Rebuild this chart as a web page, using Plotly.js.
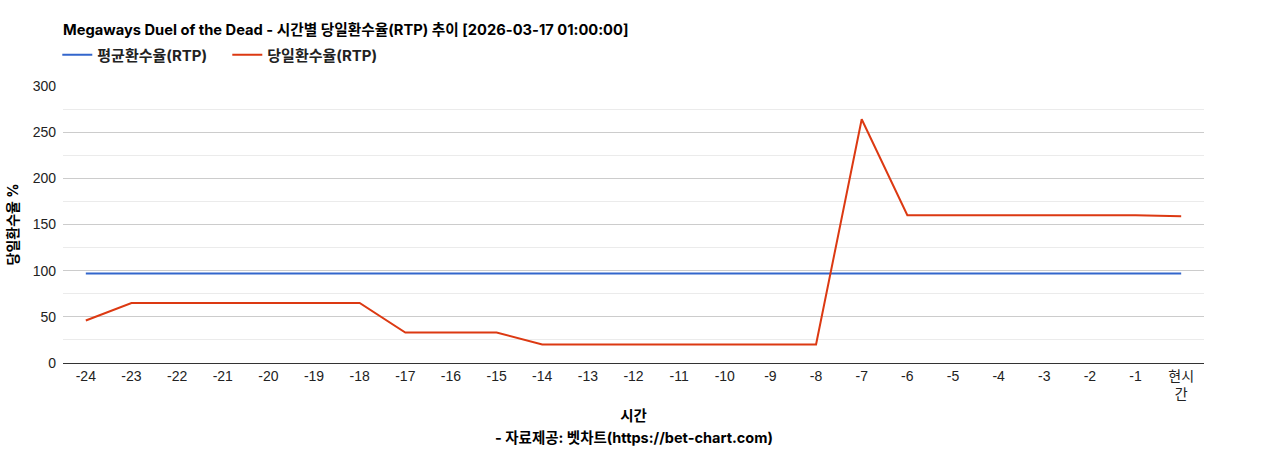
<!DOCTYPE html>
<html>
<head>
<meta charset="utf-8">
<script src="https://cdn.plot.ly/plotly-3.0.1.min.js"></script>
<style>html,body{margin:0;padding:0;background:#fff;}#chart{width:1268px;height:450px;}</style>
</head>
<body>
<div id="chart"></div>
<script>
const categories = ["-24","-23","-22","-21","-20","-19","-18","-17","-16","-15","-14","-13","-12","-11","-10","-9","-8","-7","-6","-5","-4","-3","-2","-1","현시간"];
const tickLabels = ["-24","-23","-22","-21","-20","-19","-18","-17","-16","-15","-14","-13","-12","-11","-10","-9","-8","-7","-6","-5","-4","-3","-2","-1","현시<br>간"];
const avgRtp = [97,97,97,97,97,97,97,97,97,97,97,97,97,97,97,97,97,97,97,97,97,97,97,97,97];
const dailyRtp = [46,65,65,65,65,65,65,33,33,33,20,20,20,20,20,20,20,264,160,160,160,160,160,160,159];
const titleText = 'Megaways Duel of the Dead - 시간별 당일환수율(RTP) 추이 [2026-03-17 01:00:00]';
const xTitle = '시간';
const yTitle = '당일환수율 %';
const creditText = '- 자료제공: 벳차트(https://bet-chart.com)';

const FONT = "Arial, 'Liberation Sans', 'Noto Sans CJK KR', sans-serif";
const BFONT = "Inter, 'Noto Sans CJK KR', sans-serif";

const traces = [
  {x: categories, y: avgRtp, type: 'scatter', mode: 'lines', name: '<b>평균환수율(RTP)</b>',
   line: {color: '#3366cc', width: 2}},
  {x: categories, y: dailyRtp, type: 'scatter', mode: 'lines', name: '<b>당일환수율(RTP)</b>',
   line: {color: '#dc3912', width: 2}}
];

const layout = {
  width: 1268, height: 450,
  margin: {l: 63, r: 64, t: 86, b: 87},
  paper_bgcolor: '#fff', plot_bgcolor: '#fff',
  font: {family: FONT, size: 14, color: '#222'},
  title: {text: '<b>' + titleText + '</b>',
          x: 63/1268, xanchor: 'left', y: 1 - 30/450, yanchor: 'middle',
          font: {family: BFONT, size: 14.7, color: '#000'}},
  showlegend: true,
  legend: {orientation: 'h', x: -0.005, xanchor: 'left', y: 1.112, yanchor: 'middle',
           entrywidth: 125, entrywidthmode: 'pixels',
           font: {family: BFONT, size: 15, color: '#222'}, traceorder: 'normal'},
  xaxis: {
    type: 'category', tickvals: categories, ticktext: tickLabels,
    range: [-0.5, 24.5], showgrid: false, zeroline: false,
    showline: true, linecolor: '#333', linewidth: 1, ticks: '',
    tickfont: {family: FONT, size: 14, color: '#222'},
    title: {text: '<b>' + xTitle + '</b>', font: {family: BFONT, size: 14.5, color: '#000'}, standoff: 9},
    fixedrange: true, automargin: false
  },
  yaxis: {
    range: [0, 300], dtick: 50, tick0: 0,
    showgrid: true, gridcolor: '#cccccc', gridwidth: 1,
    zeroline: false, showline: false, ticks: '', ticklabelstandoff: 6,
    minor: {dtick: 25, showgrid: true, gridcolor: '#ebebeb', gridwidth: 1},
    tickfont: {family: FONT, size: 14, color: '#222'},
    title: {text: '<b>' + yTitle + '</b>', font: {family: BFONT, size: 14, color: '#000'}, standoff: 10},
    fixedrange: true, automargin: false
  },
  annotations: [{
    text: '<b>' + creditText + '</b>', xref: 'paper', yref: 'paper',
    x: 0.5, xanchor: 'center', y: (363 - 437) / 277, yanchor: 'middle',
    showarrow: false, font: {family: BFONT, size: 14.5, color: '#000'}
  }]
};

Plotly.newPlot('chart', traces, layout, {displayModeBar: false, staticPlot: true});
</script>
</body>
</html>
